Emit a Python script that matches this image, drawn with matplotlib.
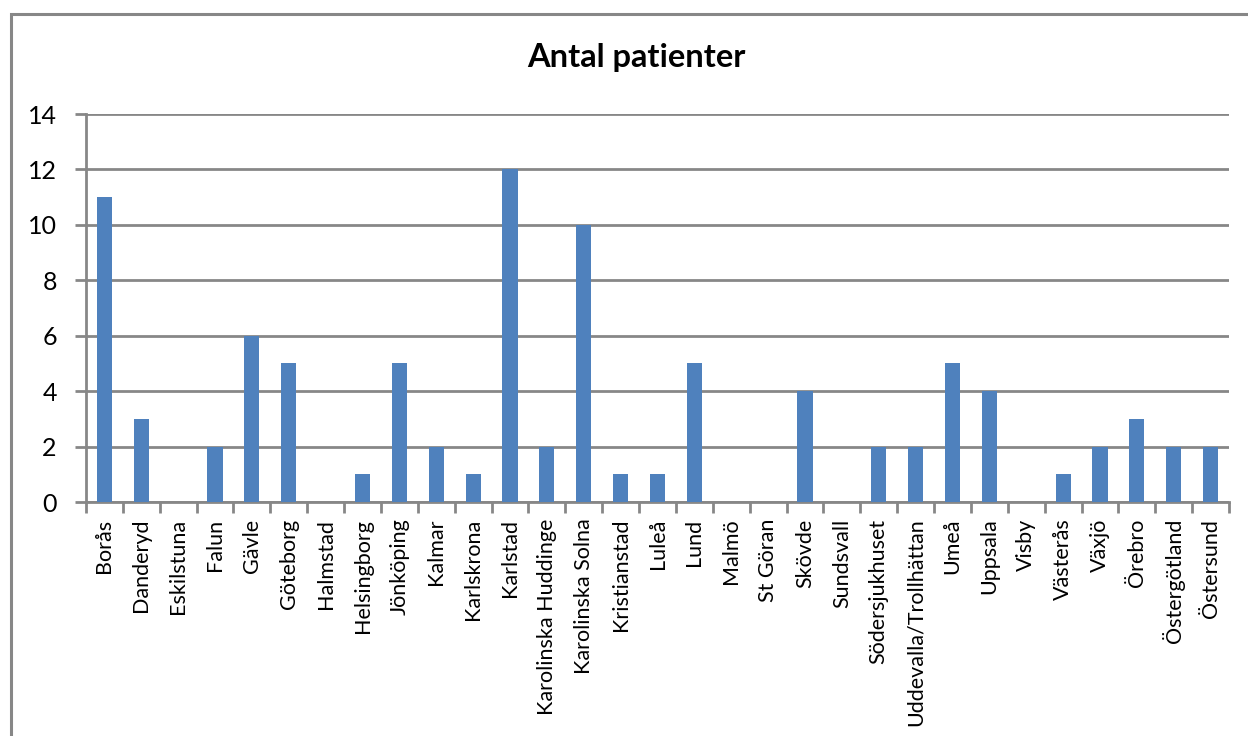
import numpy as np
import matplotlib.pyplot as plt
from matplotlib.patches import Rectangle

# Patients per hospital
hospitals = [
    "Borås", "Danderyd", "Eskilstuna", "Falun", "Gävle", "Göteborg",
    "Halmstad", "Helsingborg", "Jönköping", "Kalmar", "Karlskrona",
    "Karlstad", "Karolinska Huddinge", "Karolinska Solna", "Kristianstad",
    "Luleå", "Lund", "Malmö", "St Göran", "Skövde", "Sundsvall",
    "Södersjukhuset", "Uddevalla/Trollhättan", "Umeå", "Uppsala", "Visby",
    "Västerås", "Växjö", "Örebro", "Östergötland", "Östersund",
]
patients = [11, 3, 0, 2, 6, 5, 0, 1, 5, 2, 1, 12, 2, 10, 1, 1, 5, 0, 0, 4,
            0, 2, 2, 5, 4, 0, 1, 2, 3, 2, 2]
y_ticks = [0, 2, 4, 6, 8, 10, 12, 14]

plt.rcParams['font.family'] = ['Lato', 'DejaVu Sans']
GRID = "#878787"

W, H = 1248, 736
fig = plt.figure(figsize=(W / 100, H / 100), dpi=100)

# chart frame (runs off the right and bottom)
fig.patches.append(Rectangle((11 / W, -0.1), 1.2, 1 - 14 / H + 0.1,
                             transform=fig.transFigure, fill=False,
                             edgecolor=GRID, linewidth=2.2))

ax = fig.add_axes([86 / W, 234 / H, (1229 - 86) / W, (502 - 114) / H])

x = np.arange(len(hospitals))
ax.bar(x, patients, width=0.41, color="#4F81BD", zorder=3)

ax.set_xlim(-0.5, len(hospitals) - 0.5)
ax.set_ylim(0, 14)
ax.set_yticks(y_ticks)
ax.yaxis.grid(True, color=GRID, linewidth=2)
ax.set_axisbelow(True)

for side in ("top", "right"):
    ax.spines[side].set_visible(False)
for side in ("left", "bottom"):
    ax.spines[side].set_color(GRID)
    ax.spines[side].set_linewidth(2)

# category labels centred, tick marks between categories
ax.set_xticks(x)
ax.set_xticklabels(hospitals, rotation=90, fontsize=15.5)
ax.tick_params(axis="x", length=0, pad=12)
ax.set_xticks(np.arange(len(hospitals) + 1) - 0.5, minor=True)
ax.tick_params(axis="x", which="minor", length=8, width=2, color=GRID)
ax.tick_params(axis="y", length=8, width=2, color=GRID, labelsize=18, pad=13)

fig.text(636 / W, 1 - 58 / H, "Antal patienter", ha="center", va="center",
         fontsize=23.5, fontweight="bold")

fig.savefig("out.png", dpi=100)
